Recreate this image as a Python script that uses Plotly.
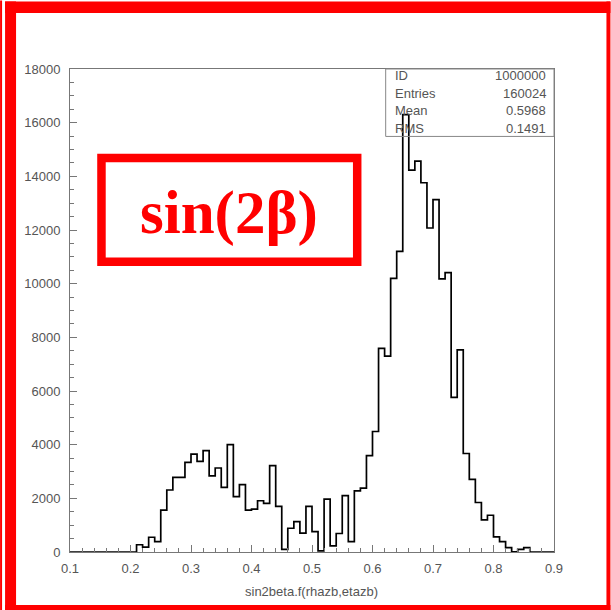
import plotly.graph_objects as go

# ---- data ----
bin_start = 0.10
bin_width = 0.01
counts = [
    0, 0, 0, 0, 0, 0, 0, 0, 0, 0,                      # 0.10-0.19
    0, 270, 180, 550, 385, 1560, 2310, 2780, 2780, 3340,  # 0.20-0.29
    3650, 3380, 3780, 2840, 3130, 2410, 4000, 2060, 2510, 1560,  # 0.30-0.39
    1600, 1910, 1810, 3220, 1700, 100, 885, 1135, 700, 1700,     # 0.40-0.49
    760, 40, 1970, 225, 690, 2100, 390, 2280, 2380, 3590,        # 0.50-0.59
    4490, 7585, 7300, 10200, 11200, 16300, 14230, 14570, 13760, 12075,  # 0.60-0.69
    13135, 10180, 10415, 5760, 7530, 3670, 2710, 1845, 1200, 1370,      # 0.70-0.79
    560, 385, 160, 10, 100, 160, 0, 0, 0, 0,                            # 0.80-0.89
]
x_ticks = [0.1, 0.2, 0.3, 0.4, 0.5, 0.6, 0.7, 0.8, 0.9]
x_tick_labels = ["0.1", "0.2", "0.3", "0.4", "0.5", "0.6", "0.7", "0.8", "0.9"]
y_ticks = [0, 2000, 4000, 6000, 8000, 10000, 12000, 14000, 16000, 18000]
y_tick_labels = ["0", "2000", "4000", "6000", "8000", "10000", "12000", "14000", "16000", "18000"]
stat_names = ["ID", "Entries", "Mean", "RMS"]
stat_values = ["1000000", "160024", "0.5968", "0.1491"]
x_title = "sin2beta.f(rhazb,etazb)"
label_text = "sin(2β)"

# ---- geometry ----
W, H = 611, 610
L, R, T, B = 70, 554.5, 68.5, 552
PW, PH = R - L, B - T

def px(x):
    return (x - L) / PW

def py(y):
    return (B - y) / PH

edges = [bin_start + i * bin_width for i in range(len(counts) + 1)]
xs = edges
ys = counts + [counts[-1]]

fig = go.Figure()
fig.add_trace(go.Scatter(
    x=xs, y=ys, mode="lines", line=dict(shape="hv", color="black", width=1.7),
    hoverinfo="skip", showlegend=False,
))

tick_font = dict(family="Liberation Sans, Arial, sans-serif", size=13, color="#555")
axis_col = "#777"

fig.update_layout(
    width=W, height=H,
    margin=dict(l=L, r=W - R, t=T, b=H - B, autoexpand=False),
    paper_bgcolor="white", plot_bgcolor="white",
    showlegend=False,
    xaxis=dict(
        range=[0.1, 0.9], tickvals=x_ticks, ticktext=x_tick_labels,
        ticks="inside", ticklen=7, tickcolor=axis_col, tickwidth=1,
        minor=dict(dtick=0.02, tick0=0.1, ticks="inside", ticklen=4, tickcolor=axis_col),
        showline=True, linecolor=axis_col, linewidth=1, mirror=True,
        showgrid=False, zeroline=False, tickfont=tick_font, ticklabelstandoff=4,
        automargin=False,
    ),
    yaxis=dict(
        range=[0, 18000], tickvals=y_ticks, ticktext=y_tick_labels,
        ticks="inside", ticklen=7, tickcolor=axis_col, tickwidth=1,
        minor=dict(dtick=500, tick0=0, ticks="inside", ticklen=4, tickcolor=axis_col),
        showline=True, linecolor=axis_col, linewidth=1, mirror=True,
        showgrid=False, zeroline=False, tickfont=tick_font, ticklabelstandoff=6,
        automargin=False,
    ),
)

shapes = []
red = "#ff0000"

def rect_px(x0, y0, x1, y1, **kw):
    return dict(type="rect", xref="paper", yref="paper",
                x0=px(x0), x1=px(x1), y0=py(y1), y1=py(y0), **kw)

# outer red frame
shapes.append(rect_px(0, 0, 2, 610, fillcolor=red, line=dict(width=0), layer="above"))
shapes.append(rect_px(5, 1, 16, 610, fillcolor=red, line=dict(width=0), layer="above"))
shapes.append(rect_px(5, 1, 611, 12.5, fillcolor=red, line=dict(width=0), layer="above"))
shapes.append(rect_px(607, 1, 611, 610, fillcolor=red, line=dict(width=0), layer="above"))
shapes.append(rect_px(5, 605, 611, 610, fillcolor=red, line=dict(width=0), layer="above"))
# sin(2beta) box
shapes.append(rect_px(101.5, 157.5, 357.5, 261.5, line=dict(color=red, width=8.5),
                      fillcolor="rgba(0,0,0,0)", layer="above"))
# stats box
shapes.append(rect_px(386, T, R, 136, line=dict(color="#888", width=1),
                      fillcolor="rgba(0,0,0,0)", layer="above"))
fig.update_layout(shapes=shapes)

ann = []
stat_font = dict(family="Liberation Sans, Arial, sans-serif", size=13, color="#555")
row_y = [75, 93, 110.5, 128]
for name, val, yy in zip(stat_names, stat_values, row_y):
    ann.append(dict(xref="paper", yref="paper", x=px(393), y=py(yy), text=name,
                    showarrow=False, xanchor="left", yanchor="middle", font=stat_font))
    ann.append(dict(xref="paper", yref="paper", x=px(548), y=py(yy), text=val,
                    showarrow=False, xanchor="right", yanchor="middle", font=stat_font))
ann.append(dict(xref="paper", yref="paper", x=px(312), y=py(592), text=x_title,
                showarrow=False, xanchor="center", yanchor="middle",
                font=dict(family="Liberation Sans, Arial, sans-serif", size=13, color="#555")))
ann.append(dict(xref="paper", yref="paper", x=px(229.5), y=py(213), text="<b>" + label_text + "</b>",
                showarrow=False, xanchor="center", yanchor="middle",
                font=dict(family="Liberation Serif, Times New Roman, serif", size=61, color=red)))
fig.update_layout(annotations=ann)

fig.write_html(
    "out.html",
    config={"displayModeBar": False},
    post_script="document.body.style.margin='0';document.body.style.overflow='hidden';",
)
